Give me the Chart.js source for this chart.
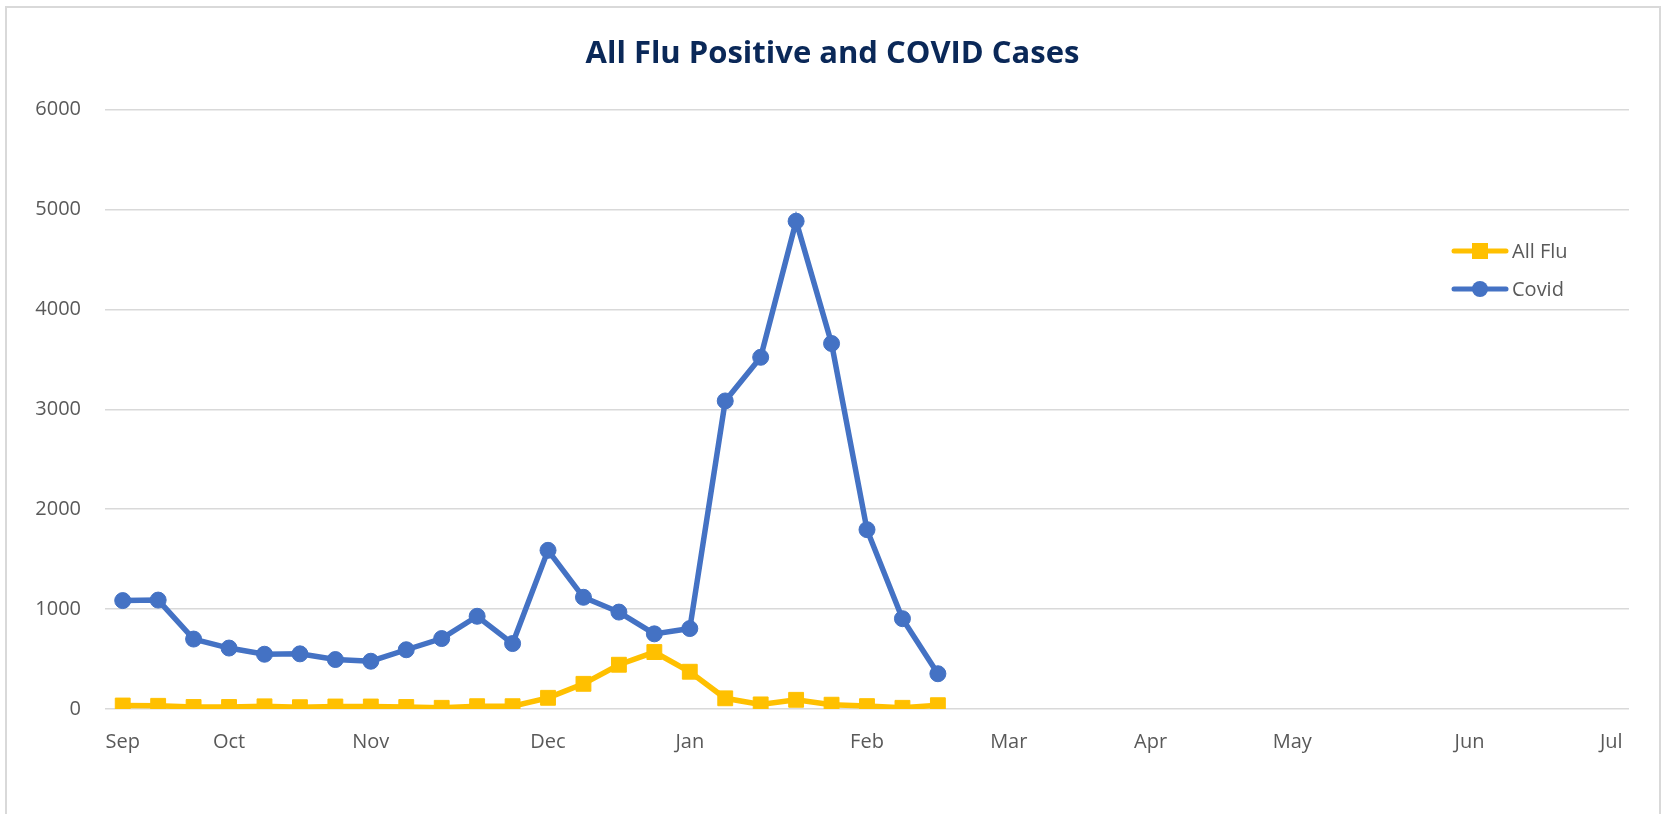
<!DOCTYPE html>
<html>
<head>
<meta charset="utf-8">
<script src="https://cdn.jsdelivr.net/npm/chart.js@4.4.1/dist/chart.umd.min.js"></script>
<style>
  html, body { margin: 0; padding: 0; background: #ffffff; }
  #wrap { width: 1665px; height: 814px; position: relative; }
</style>
</head>
<body>
<div id="wrap"><canvas id="c" width="1665" height="814"></canvas></div>
<script>
// Weekly categories (week starting dates)
const weeks = [
  '2021-09-13','2021-09-20','2021-09-27','2021-10-04','2021-10-11','2021-10-18','2021-10-25',
  '2021-11-01','2021-11-08','2021-11-15','2021-11-22','2021-11-29','2021-12-06','2021-12-13',
  '2021-12-20','2021-12-27','2022-01-03','2022-01-10','2022-01-17','2022-01-24','2022-01-31',
  '2022-02-07','2022-02-14','2022-02-21','2022-02-28','2022-03-07','2022-03-14','2022-03-21',
  '2022-03-28','2022-04-04','2022-04-11','2022-04-18','2022-04-25','2022-05-02','2022-05-09',
  '2022-05-16','2022-05-23','2022-05-30','2022-06-06','2022-06-13','2022-06-20','2022-06-27',
  '2022-07-04'
];
// Tick labels shown on the x axis (one per category, blank where no label)
const tickLabels = [
  'Sep','','','Oct','','','',
  'Nov','','','','','Dec','',
  '','','Jan','','','','',
  'Feb','','','','Mar','','',
  '','Apr','','','','May','',
  '','','','Jun','','','',
  'Jul'
];
const yTicks = [0, 1000, 2000, 3000, 4000, 5000, 6000];

const seriesNames = ['All Flu', 'Covid'];
const fluValues = [35, 32, 20, 20, 27, 18, 25, 25, 20, 12, 28, 28, 112, 252, 443, 570, 373, 107, 46, 92, 43, 29, 12, 38];
const covidValues = [1085, 1090, 700, 610, 548, 552, 495, 478, 593, 705, 928, 655, 1588, 1118, 970, 752, 805, 3083, 3520, 4882, 3658, 1795, 904, 353];

const titleText = 'All Flu Positive and COVID Cases';

const FLU = '#FFC000';
const COVID = '#4472C4';
const TXT = '#595959';
const GRID = '#D9D9D9';
const FONT = '"Open Sans", "Noto Sans", sans-serif';

const framePlugin = {
  id: 'frame',
  beforeDraw(chart) {
    const ctx = chart.ctx;
    ctx.save();
    ctx.fillStyle = '#ffffff';
    ctx.fillRect(0, 0, chart.width, chart.height);
    ctx.strokeStyle = GRID;
    ctx.lineWidth = 2;
    ctx.strokeRect(6, 7, 1654, 900);
    // title
    ctx.fillStyle = '#0a2858';
    ctx.font = 'bold 31px ' + FONT;
    ctx.textAlign = 'center';
    ctx.textBaseline = 'alphabetic';
    ctx.fillText(titleText, 832.5, 63);
    ctx.restore();
  }
};

const legendPlugin = {
  id: 'customLegend',
  afterDatasetsDraw(chart) {
    const ctx = chart.ctx;
    const items = [
      { name: seriesNames[0], color: FLU, shape: 'rect', y: 251 },
      { name: seriesNames[1], color: COVID, shape: 'circle', y: 289 }
    ];
    ctx.save();
    items.forEach(it => {
      ctx.strokeStyle = it.color;
      ctx.lineWidth = 5;
      ctx.lineCap = 'round';
      ctx.beginPath();
      ctx.moveTo(1454, it.y);
      ctx.lineTo(1506, it.y);
      ctx.stroke();
      ctx.fillStyle = it.color;
      if (it.shape === 'rect') {
        ctx.fillRect(1480 - 8, it.y - 8, 16, 16);
      } else {
        ctx.beginPath();
        ctx.arc(1480, it.y, 8, 0, Math.PI * 2);
        ctx.fill();
      }
      ctx.fillStyle = TXT;
      ctx.font = '20px ' + FONT;
      ctx.textAlign = 'left';
      ctx.textBaseline = 'middle';
      ctx.fillText(it.name, 1512, it.y + 1);
    });
    ctx.restore();
  }
};

new Chart(document.getElementById('c'), {
  type: 'line',
  data: {
    labels: weeks,
    datasets: [
      {
        label: seriesNames[0],
        data: fluValues,
        borderColor: FLU,
        backgroundColor: FLU,
        borderWidth: 5.5,
        pointStyle: 'rect',
        pointRadius: 10.5,
        pointBorderWidth: 1,
        pointHoverRadius: 10.5,
        tension: 0,
        fill: false,
        order: 2
      },
      {
        label: seriesNames[1],
        data: covidValues,
        borderColor: COVID,
        backgroundColor: COVID,
        borderWidth: 5.5,
        pointStyle: 'circle',
        pointRadius: 8,
        pointBorderWidth: 1,
        pointHoverRadius: 8,
        tension: 0,
        fill: false,
        order: 1
      }
    ]
  },
  options: {
    responsive: false,
    animation: false,
    devicePixelRatio: 1,
    layout: { padding: { top: 109.5, right: 36, left: 0, bottom: 25 } },
    plugins: {
      legend: { display: false },
      title: { display: false },
      tooltip: { enabled: false }
    },
    scales: {
      x: {
        type: 'category',
        offset: true,
        grid: { display: false, drawTicks: false, offset: true },
        border: { display: false },
        ticks: {
          autoSkip: false,
          maxRotation: 0,
          minRotation: 0,
          padding: 21,
          color: TXT,
          font: { family: FONT, size: 20 },
          callback: (v, i) => tickLabels[i]
        },
        afterFit(scale) { scale.height = 80; }
      },
      y: {
        min: 0,
        max: 6000,
        afterBuildTicks(scale) { scale.ticks = yTicks.map(v => ({ value: v })); },
        grid: { color: GRID, lineWidth: 1.5, drawTicks: false },
        border: { display: false },
        ticks: {
          padding: 24,
          color: TXT,
          font: { family: FONT, size: 20 },
          callback: (v) => String(v)
        },
        afterFit(scale) { scale.width = 105; }
      }
    }
  },
  plugins: [framePlugin, legendPlugin]
});
</script>
</body>
</html>
